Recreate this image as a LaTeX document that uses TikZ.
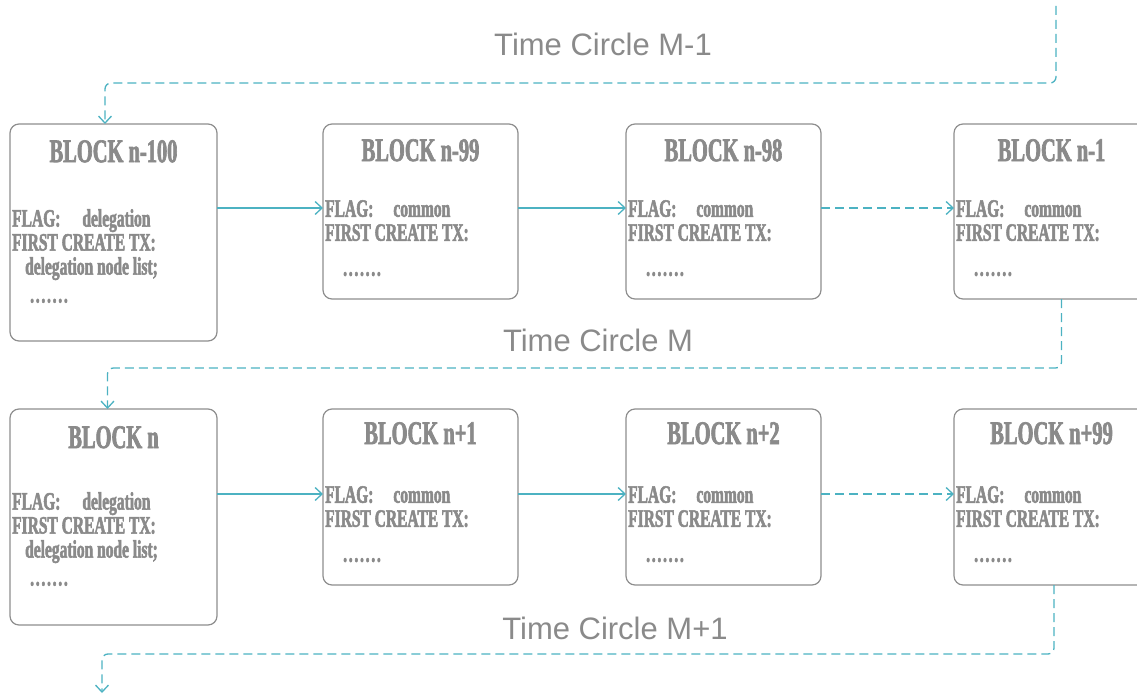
\documentclass[tikz,border=0pt]{standalone}
\usepackage{fontspec}
\usepackage{xcolor}
\newfontfamily\blockfont[FakeStretch=0.62, BoldFeatures={FakeBold=2}]{Liberation Serif}
\newfontfamily\circlefont{Liberation Sans}
\newcommand{\moreDots}{\hspace*{18pt}{\addfontfeature{LetterSpace=7}.......}}
\definecolor{boxGray}{HTML}{8E8E8E}
\definecolor{textGray}{HTML}{8A8A8A}
\definecolor{linkTeal}{HTML}{4CB2C2}
\usetikzlibrary{positioning,calc,arrows.meta}
\tikzset{
  smallBlock/.style={
    rectangle,
    rounded corners=9pt,
    draw=boxGray,
    line width=1.2pt,
    fill=white,
    minimum width=195pt,
    minimum height=175pt,
    inner sep=0pt,
    outer sep=0pt
 },
  bigBlock/.style={
    smallBlock,
    minimum width=207pt,
    minimum height=217pt
 },
  blockTitle/.style={
    font=\blockfont\bfseries\fontsize{33}{38}\selectfont,
    text=textGray,
    inner sep=0pt
 },
  blockBody/.style={
    font=\blockfont\bfseries\fontsize{25}{24}\selectfont,
    text=textGray,
    align=left,
    inner sep=0pt
 },
  flowArrow/.style={
    -{Straight Barb[length=7pt,width=13pt]},
    line width=1.3pt,
    color=linkTeal
 },
  skipArrow/.style={
    flowArrow,
    dash pattern=on 9pt off 5pt
 },
  circleLine/.style={
    skipArrow,
    rounded corners=6pt
 },
  circleLabel/.style={
    font=\circlefont\fontsize{31}{36}\selectfont,
    text=textGray
 }
}

\begin{document}
\begin{tikzpicture}[x=1pt, y=-1pt]
            \useasboundingbox (0,0) rectangle (1137,695);

            % time circle M-1
            \node[bigBlock] (bn100) at (113.5,232.5) {};
            \node[smallBlock, right=106pt of bn100.north east, anchor=north west] (bn99) {};
            \node[smallBlock, right=108pt of bn99.north east, anchor=north west] (bn98) {};
            \node[smallBlock, right=133pt of bn98.north east, anchor=north west] (bn1) {};

            \node[blockTitle, below=16pt of bn100.north] (t100) {BLOCK n-100};
            \node[blockTitle, below=15pt of bn99.north] (t99) {BLOCK n-99};
            \node[blockTitle, below=15pt of bn98.north] (t98) {BLOCK n-98};
            \node[blockTitle, below=15pt of bn1.north] (t1) {BLOCK n-1};

            \node[blockBody, below right=85pt and 2pt of bn100.north west] (f100) {FLAG:\hspace{22pt}delegation\\FIRST CREATE TX:\\\hspace*{13pt}delegation node list;\\[4pt]\moreDots};
            \node[blockBody, below right=76pt and 2pt of bn99.north west] (f99) {FLAG:\hspace{20pt}common\\FIRST CREATE TX:\\[11pt]\moreDots};
            \node[blockBody, below right=76pt and 2pt of bn98.north west] (f98) {FLAG:\hspace{20pt}common\\FIRST CREATE TX:\\[11pt]\moreDots};
            \node[blockBody, below right=76pt and 2pt of bn1.north west] (f1) {FLAG:\hspace{20pt}common\\FIRST CREATE TX:\\[11pt]\moreDots};

            \draw[flowArrow] ([yshift=-84pt]bn100.north east) -- ([yshift=-84pt]bn99.north west);
            \draw[flowArrow] ([yshift=-84pt]bn99.north east) -- ([yshift=-84pt]bn98.north west);
            \draw[skipArrow] ([yshift=-84pt]bn98.north east) -- ([yshift=-84pt]bn1.north west);

            % time circle M
            \node[bigBlock, minimum height=216pt] (bn0) at (113.5,517) {};
            \node[smallBlock, minimum height=176pt, right=106pt of bn0.north east, anchor=north west] (bnp1) {};
            \node[smallBlock, minimum height=176pt, right=108pt of bnp1.north east, anchor=north west] (bnp2) {};
            \node[smallBlock, minimum height=176pt, right=133pt of bnp2.north east, anchor=north west] (bnp99) {};

            \node[blockTitle, below=17pt of bn0.north] (t0) {BLOCK n};
            \node[blockTitle, below=13pt of bnp1.north] (tp1) {BLOCK n+1};
            \node[blockTitle, below=13pt of bnp2.north] (tp2) {BLOCK n+2};
            \node[blockTitle, below=13pt of bnp99.north] (tp99) {BLOCK n+99};

            \node[blockBody, below right=83pt and 2pt of bn0.north west] (f0) {FLAG:\hspace{22pt}delegation\\FIRST CREATE TX:\\\hspace*{13pt}delegation node list;\\[4pt]\moreDots};
            \node[blockBody, below right=77pt and 2pt of bnp1.north west] (fp1) {FLAG:\hspace{20pt}common\\FIRST CREATE TX:\\[11pt]\moreDots};
            \node[blockBody, below right=77pt and 2pt of bnp2.north west] (fp2) {FLAG:\hspace{20pt}common\\FIRST CREATE TX:\\[11pt]\moreDots};
            \node[blockBody, below right=77pt and 2pt of bnp99.north west] (fp99) {FLAG:\hspace{20pt}common\\FIRST CREATE TX:\\[11pt]\moreDots};

            \draw[flowArrow] ([yshift=-85pt]bn0.north east) -- ([yshift=-85pt]bnp1.north west);
            \draw[flowArrow] ([yshift=-85pt]bnp1.north east) -- ([yshift=-85pt]bnp2.north west);
            \draw[skipArrow] ([yshift=-85pt]bnp2.north east) -- ([yshift=-85pt]bnp99.north west);

            % circle hand-overs
            \coordinate (topIn) at (1056,6);
            \coordinate (outEnd) at (102,693);
            \draw[circleLine] (topIn) |- ([xshift=-8.5pt, yshift=41pt]bn100.north) -- ([xshift=-8.5pt]bn100.north);
            \draw[circleLine] ([xshift=10pt]bn1.south) |- ([xshift=-6pt, yshift=41pt]bn0.north) -- ([xshift=-6pt]bn0.north);
            \draw[circleLine] ([xshift=2.5pt]bnp99.south) |- ([yshift=39pt]outEnd) -- (outEnd);

            \node[circleLabel] (tcPrev) at (603,44) {Time Circle M-1};
            \node[circleLabel] (tcCur) at (598,340) {Time Circle M};
            \node[circleLabel] (tcNext) at (615,628) {Time Circle M+1};
        \end{tikzpicture}
\end{document}
